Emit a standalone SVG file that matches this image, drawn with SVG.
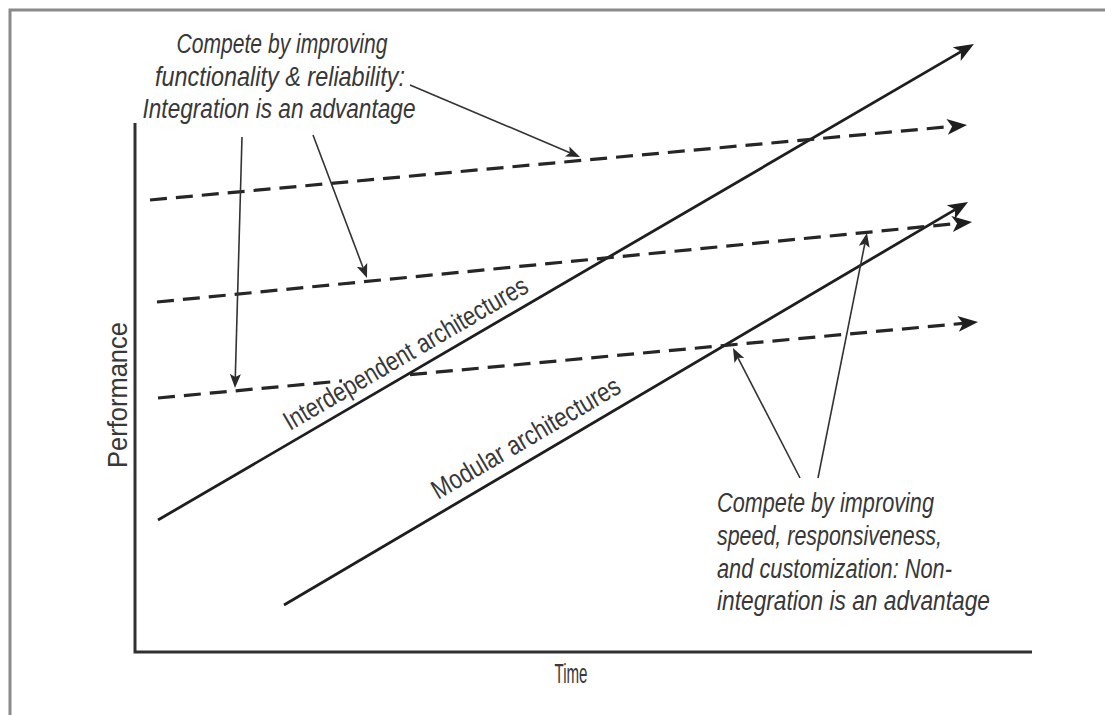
<svg xmlns="http://www.w3.org/2000/svg" width="1105" height="715" viewBox="0 0 1105 715">
  <style>
    .frame { fill: none; stroke: #8a8a8a; stroke-width: 3; }
    .axis { fill: none; stroke: #303030; stroke-width: 3; }
    .trend { fill: none; stroke: #1e1e1e; stroke-width: 2.8; }
    .dash { fill: none; stroke: #262626; stroke-width: 3.2; stroke-dasharray: 17 9; }
    .pointer { fill: none; stroke: #333; stroke-width: 1.6; }
    .label { font-family: "Liberation Sans", Arial, sans-serif; font-size: 27px; fill: #383838; }
    .note { font-style: italic; }
  </style>
  <defs>
    <marker id="bigHead" markerUnits="userSpaceOnUse" markerWidth="22" markerHeight="18" viewBox="0 -9 22 18" refX="5" refY="0" orient="auto">
      <path d="M0,-8 L20,0 L0,8 L5,0 Z" fill="#1e1e1e"/>
    </marker>
    <marker id="smallHead" markerUnits="userSpaceOnUse" markerWidth="16" markerHeight="12" viewBox="0 -6 16 12" refX="3" refY="0" orient="auto">
      <path d="M0,-5.5 L14,0 L0,5.5 L3,0 Z" fill="#2a2a2a"/>
    </marker>
  </defs>

  <rect width="1105" height="715" fill="#ffffff"/>
  <path class="frame" d="M1105,10 H10 V715"/>

  <!-- axes -->
  <g id="axes">
    <path class="axis" d="M135,123 V652 H1032"/>
    <text class="label" x="571" y="683" text-anchor="middle" textLength="33" lengthAdjust="spacingAndGlyphs">Time</text>
    <text class="label" transform="translate(127,395) rotate(-90)" text-anchor="middle" textLength="146" lengthAdjust="spacingAndGlyphs">Performance</text>
  </g>

  <!-- connectors: trajectories and callout pointers -->
  <g id="connectors">
    <line class="trend" x1="158" y1="520" x2="961" y2="51.6" marker-end="url(#bigHead)"/>
    <line class="trend" x1="284" y1="605" x2="955.1" y2="209.6" marker-end="url(#bigHead)"/>
    <line class="dash" x1="150" y1="200" x2="952.1" y2="126.4" marker-end="url(#bigHead)"/>
    <line class="dash" x1="157" y1="302" x2="957.1" y2="223.5" marker-end="url(#bigHead)"/>
    <line class="dash" x1="158" y1="398" x2="342" y2="380.9"/>
    <line class="dash" x1="410" y1="374.6" x2="963.1" y2="323.4" marker-end="url(#bigHead)"/>

    <line class="pointer" x1="410" y1="85" x2="569.9" y2="152.7" marker-end="url(#smallHead)"/>
    <line class="pointer" x1="313" y1="135" x2="363.1" y2="267.7" marker-end="url(#smallHead)"/>
    <line class="pointer" x1="242" y1="137" x2="235.3" y2="377" marker-end="url(#smallHead)"/>
    <line class="pointer" x1="800" y1="478" x2="738" y2="357.8" marker-end="url(#smallHead)"/>
    <line class="pointer" x1="818" y1="478" x2="864.8" y2="243.8" marker-end="url(#smallHead)"/>
  </g>

  <!-- trajectory labels -->
  <g id="interdependent">
    <text class="label" transform="translate(290,431) rotate(-30.2)" textLength="278" lengthAdjust="spacingAndGlyphs">Interdependent architectures</text>
  </g>
  <g id="modular">
    <text class="label" transform="translate(438,500) rotate(-30.4)" textLength="214" lengthAdjust="spacingAndGlyphs">Modular architectures</text>
  </g>

  <!-- callout notes -->
  <g id="integration-note" class="label note" text-anchor="middle">
    <text x="282" y="53" textLength="211" lengthAdjust="spacingAndGlyphs">Compete by improving</text>
    <text x="280" y="86" textLength="250" lengthAdjust="spacingAndGlyphs">functionality &amp; reliability:</text>
    <text x="279" y="118" textLength="273" lengthAdjust="spacingAndGlyphs">Integration is an advantage</text>
  </g>
  <g id="modular-note" class="label note">
    <text x="717" y="512" textLength="217" lengthAdjust="spacingAndGlyphs">Compete by improving</text>
    <text x="717" y="545" textLength="225" lengthAdjust="spacingAndGlyphs">speed, responsiveness,</text>
    <text x="717" y="578" textLength="235" lengthAdjust="spacingAndGlyphs">and customization: Non-</text>
    <text x="717" y="610" textLength="273" lengthAdjust="spacingAndGlyphs">integration is an advantage</text>
  </g>
</svg>
